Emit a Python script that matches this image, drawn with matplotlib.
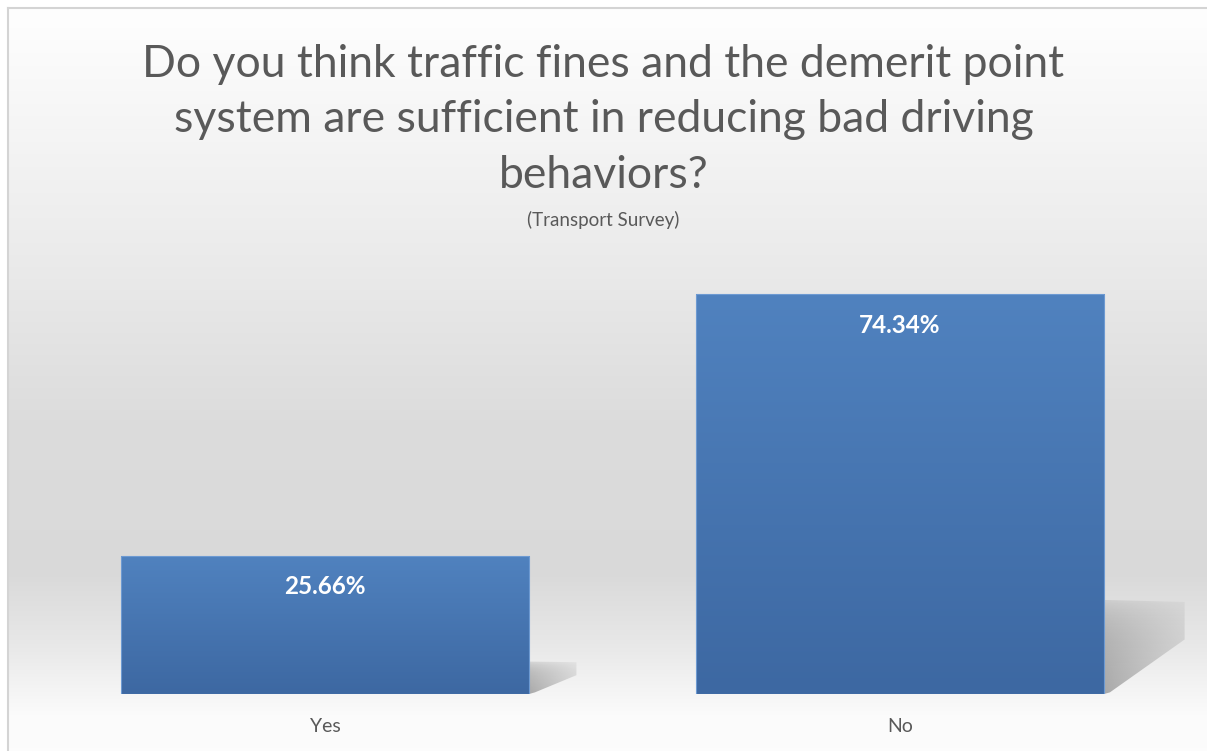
import numpy as np
import matplotlib
matplotlib.use('Agg')
import matplotlib.pyplot as plt
from matplotlib.patches import Rectangle, Polygon
from matplotlib.lines import Line2D

categories = ['Yes', 'No']
percentages = [25.66, 74.34]
value_labels = ['25.66%', '74.34%']
title = ('Do you think traffic fines and the demerit point\n'
         'system are sufficient in reducing bad driving\n'
         'behaviors?')
subtitle = '(Transport Survey)'

plt.rcParams['font.family'] = ['Lato', 'DejaVu Sans']

W, H = 1207, 751
fig = plt.figure(figsize=(W / 100, H / 100), dpi=100)
fig.patch.set_facecolor('white')

# background: vertical grey gradient (white -> grey -> white)
bg = fig.add_axes([0, 0, 1, 1], zorder=0)
bg.set_axis_off()
py = np.arange(H)
g = np.interp(py, [0, 10, 250, 410, 560, 630, 700, 751],
              [0.995, 0.995, 0.92, 0.862, 0.852, 0.91, 0.985, 0.99])
img = np.stack([g, g, g], axis=-1)[:, None, :].repeat(4, axis=1)
bg.imshow(img, aspect='auto', extent=[8 / W, 1.02, -0.02, 1 - 8 / H],
          origin='upper', interpolation='nearest')
bg.set_xlim(0, 1)
bg.set_ylim(0, 1)
bg.add_line(Line2D([7.5 / W, 7.5 / W], [0, 1 - 7.5 / H], color='#d4d4d4', lw=1.5))
bg.add_line(Line2D([7.5 / W, 1], [1 - 7.5 / H, 1 - 7.5 / H], color='#d4d4d4', lw=1.5))

# plot axes: baseline at y=694px, 5.38px per percent
ymax = 80
ax_h = ymax * 5.38 / H
ax = fig.add_axes([37.5 / W, (H - 694) / H, 1150 / W, ax_h], zorder=1)
ax.patch.set_alpha(0)
ax.set_xlim(-0.5, 1.5)
ax.set_ylim(0, ymax)
for s in ax.spines.values():
    s.set_visible(False)
ax.set_yticks([])
x = np.arange(len(categories))
bar_w = 0.71
bars = ax.bar(x, percentages, width=bar_w, color='none', edgecolor='none')

# vertical blue gradient for bars
top_c = np.array([80, 130, 191]) / 255
bot_c = np.array([61, 104, 162]) / 255
t = np.linspace(0, 1, 256)[:, None]
grad = (top_c * (1 - t) + bot_c * t)[:, None, :].repeat(2, axis=1)

for b, v in zip(bars, percentages):
    x0, w = b.get_x(), b.get_width()
    # soft shadow to the right of the lower part of the bar
    sh_h = 0.235 * v
    sh_w = 0.14 * np.sqrt(v / max(percentages))
    xr = x0 + w
    poly = Polygon([(xr, sh_h), (xr + sh_w, sh_h * 0.98),
                    (xr + sh_w, sh_h * 0.58), (xr + 0.01, 0.3), (xr, 0)],
                   closed=True, facecolor='none', edgecolor='none')
    ax.add_patch(poly)
    nx = 64
    sx = np.linspace(0, 1, nx)[None, :]
    sy = np.linspace(0, 1, 32)[:, None]
    alpha = 0.55 * (1 - 0.6 * sx) * (0.6 + 0.4 * sy) * (1 - 0.5 * (1 - sy) ** 6)
    simg = np.zeros((32, nx, 4))
    simg[..., :3] = 0.42
    simg[..., 3] = alpha
    im = ax.imshow(simg, extent=[xr, xr + sh_w, 0, sh_h], origin='upper',
                   aspect='auto', zorder=1)
    im.set_clip_path(poly)

    im = ax.imshow(grad, extent=[x0, x0 + w, 0, v], origin='upper',
                   aspect='auto', zorder=2)
    im.set_clip_path(b)
    ax.add_patch(Rectangle((x0, 0), w, v, facecolor='none',
                           edgecolor='#6d9ad2', lw=0.8, zorder=3))

ax.set_xlim(-0.5, 1.5)
ax.set_ylim(0, ymax)

for xi, v, lab in zip(x, percentages, value_labels):
    ax.annotate(lab, (xi, v), xytext=(0, -31), textcoords='offset pixels',
                ha='center', va='center', color='white', fontsize=17.5,
                fontweight='bold', zorder=4)

ax.set_xticks(x)
ax.set_xticklabels(categories, color='#595959', fontsize=14)
ax.tick_params(axis='x', length=0, pad=17)

fig.text(0.5, 1 - 120 / H, title, ha='center', va='center', fontsize=32,
         color='#595959', linespacing=1.44)
fig.text(0.5, 1 - 220 / H, subtitle, ha='center', va='center', fontsize=13.5,
         color='#595959')

fig.savefig('out.png', dpi=100)
